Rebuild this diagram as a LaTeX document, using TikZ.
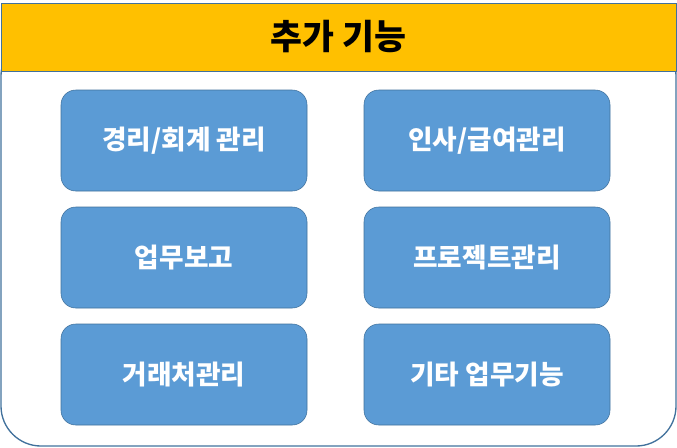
\documentclass[tikz,border=0pt]{standalone}
\usepackage{fontspec}
\newfontfamily\kr{Noto Sans CJK KR}
\definecolor{boxblue}{RGB}{91,155,213}
\definecolor{boxedge}{RGB}{65,113,156}
\definecolor{headgold}{RGB}{255,192,0}
\tikzset{
  func/.style={draw=boxedge, fill=boxblue, rounded corners=11pt, minimum width=184.5pt, minimum height=75.75pt, text=white, font=\kr\bfseries\fontsize{20}{24}\selectfont, inner sep=0pt},
}
\begin{document}
\begin{tikzpicture}[x=0.75pt,y=0.75pt,yscale=-1]
	\useasboundingbox (0,0) rectangle (677,447);
	% outer frame
	\draw [draw=boxedge, line width=1pt, rounded corners=30pt] (1,36) rectangle (676,446);
	% title bar
	\draw [draw=boxedge, fill=headgold] (1,3) rectangle (676,71);
	\node (title) at (338.5,37) {\kr\bfseries\fontsize{26}{30}\selectfont 추가 기능};
	% function boxes
	\node [func] (acct) at (184,140.5) {경리/회계 관리};
	\node [func] (hr) at (487,140.5) {인사/급여관리};
	\node [func] (rep) at (184,257.5) {업무보고};
	\node [func] (proj) at (487,257.5) {프로젝트관리};
	\node [func] (cust) at (184,374.5) {거래처관리};
	\node [func] (etc) at (487,374.5) {기타 업무기능};
\end{tikzpicture}
\end{document}
